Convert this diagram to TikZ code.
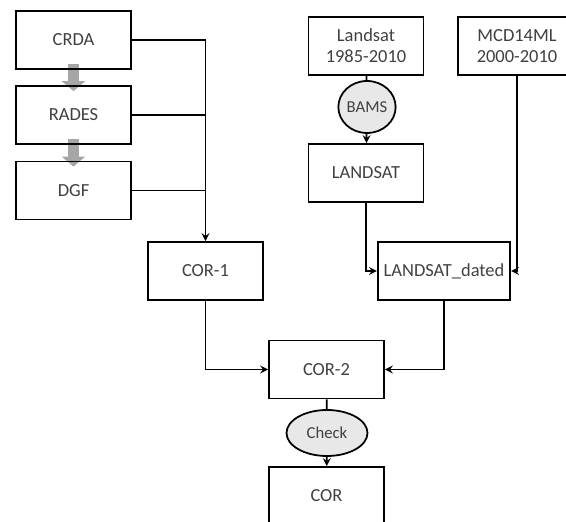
\documentclass[tikz,border=0pt]{standalone}
\usepackage{fontspec}
\setmainfont{Carlito}
\usetikzlibrary{arrows,arrows.meta,shapes,backgrounds}
\tikzstyle{obox}=[rectangle,draw=black,line width=1pt,minimum width=2.3cm,minimum height=1.16cm,text=black!75,font=\fontsize{10.5}{12}\selectfont,align=center]
\tikzstyle{oproc}=[ellipse,draw=black,line width=1pt,fill=black!9,text=black!75,font=\fontsize{9.5}{11}\selectfont,inner sep=0pt]
\tikzstyle{dflow}=[->,>=stealth,line width=1pt]
\tikzstyle{gflow}=[-{Triangle[width=0.46cm,length=0.2cm]},line width=0.22cm,draw=black!35]

\begin{document}
\begin{tikzpicture}[dflow]
\useasboundingbox (0,0) rectangle (11.32,10.42);
\node[obox] (CRDA) at (1.47,9.62) {CRDA};
\node[obox] (RADES) at (1.47,8.12) {RADES};
\node[obox] (DGF) at (1.47,6.61) {DGF};
\node[obox] (COR1) at (4.11,5.0) {COR-1};
\node[obox] (Landsat) at (7.32,9.5) {Landsat\\1985-2010};
\node[oproc,minimum width=0.96cm,minimum height=1.04cm] (BAMS) at (7.34,8.28) {BAMS};
\node[obox] (LANDSAT) at (7.32,6.96) {LANDSAT};
\node[obox,minimum width=2.36cm] (MCD) at (10.34,9.5) {MCD14ML\\2000-2010};
\node[obox,minimum width=2.64cm] (LDated) at (8.88,5.0) {LANDSAT\_dated};
\node[obox] (COR2) at (6.53,3.03) {COR-2};
\node[oproc,minimum width=1.62cm,minimum height=0.92cm] (Check) at (6.54,1.76) {Check};
\node[obox] (COR) at (6.53,0.5) {COR};
\begin{scope}[on background layer]
\draw[gflow]([yshift=0.12cm]CRDA.south)--([yshift=-0.12cm]RADES.north);
\draw[gflow]([yshift=0.12cm]RADES.south)--([yshift=-0.12cm]DGF.north);
\end{scope}
\draw(CRDA.east)-|(COR1.north);\draw[-](RADES.east)--(RADES.east-|COR1.north);\draw[-](DGF.east)--(DGF.east-|COR1.north);
\draw[-](Landsat)--(BAMS);\draw(BAMS)--(LANDSAT);
\draw(LANDSAT.south)|-(LDated.west);\draw(MCD.south)|-(LDated.east);
\draw(COR1.south)|-(COR2.west);\draw(LDated.south)|-(COR2.east);
\draw[-](COR2)--(Check);\draw(Check)--(COR);
\end{tikzpicture}
\end{document}
